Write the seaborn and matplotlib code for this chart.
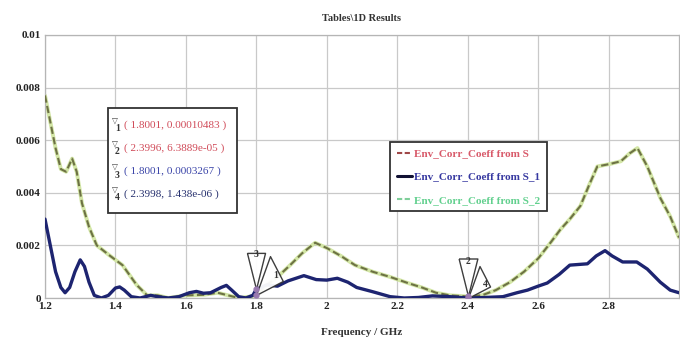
import matplotlib
matplotlib.use("Agg")
import matplotlib.pyplot as plt
import seaborn as sns
import numpy as np
from matplotlib.lines import Line2D
from matplotlib.patches import Rectangle

# ---------------- data ----------------
freq_s = [1.200, 1.215, 1.230, 1.245, 1.260, 1.277, 1.290, 1.305, 1.325, 1.347,
          1.385, 1.420, 1.460, 1.490, 1.520, 1.550, 1.600, 1.650, 1.690, 1.720,
          1.750, 1.780, 1.800, 1.830, 1.860, 1.896, 1.930, 1.967, 2.000, 2.040,
          2.080, 2.130, 2.180, 2.230, 2.270, 2.310, 2.350, 2.400, 2.440, 2.480,
          2.520, 2.560, 2.600, 2.635, 2.663, 2.690, 2.720, 2.745, 2.768, 2.805,
          2.835, 2.860, 2.882, 2.910, 2.947, 2.975, 3.000]
coeff_s = [0.0077, 0.0067, 0.0057, 0.0049, 0.0048, 0.0053, 0.0048, 0.0036, 0.0027, 0.0020,
           0.0016, 0.00125, 0.0005, 0.0001, 0.0001, 0.0, 0.0001, 0.00012, 0.0002, 0.0001,
           0.0, 0.00005, 0.0001, 0.0005, 0.0008, 0.00125, 0.0017, 0.0021, 0.0019, 0.0016,
           0.00125, 0.0010, 0.0008, 0.00057, 0.0004, 0.0002, 0.0001, 0.00006, 0.0001, 0.0003,
           0.0006, 0.0010, 0.0015, 0.0021, 0.0026, 0.0030, 0.0035, 0.0043, 0.0050, 0.0051,
           0.0052, 0.0055, 0.0057, 0.0050, 0.0038, 0.0031, 0.0023]
# S_2 overlaps S almost exactly in the reference
freq_s2 = list(freq_s)
coeff_s2 = list(coeff_s)

freq_s1 = [1.200, 1.215, 1.230, 1.245, 1.257, 1.270, 1.285, 1.300, 1.312, 1.325,
           1.340, 1.360, 1.380, 1.400, 1.412, 1.425, 1.445, 1.470, 1.500, 1.520,
           1.550, 1.580, 1.610, 1.630, 1.650, 1.670, 1.700, 1.715, 1.730, 1.750,
           1.770, 1.790, 1.800, 1.830, 1.860, 1.890, 1.935, 1.970, 2.000, 2.030,
           2.060, 2.085, 2.130, 2.180, 2.220, 2.260, 2.300, 2.350, 2.400, 2.450,
           2.500, 2.540, 2.570, 2.600, 2.626, 2.660, 2.690, 2.740, 2.765, 2.790,
           2.810, 2.840, 2.880, 2.910, 2.947, 2.975, 3.000]
coeff_s1 = [0.0030, 0.0020, 0.0010, 0.0004, 0.0002, 0.0004, 0.0010, 0.00145, 0.0012, 0.0006,
            0.0001, 0.0, 0.0001, 0.00038, 0.00042, 0.0003, 0.00005, 0.0, 0.0001, 0.00005,
            0.0, 0.00005, 0.0002, 0.00025, 0.00018, 0.0002, 0.0004, 0.00048, 0.0003, 0.00005,
            0.0, 0.0001, 0.00033, 0.0005, 0.00045, 0.00065, 0.00085, 0.0007, 0.00068, 0.00075,
            0.0006, 0.0004, 0.00024, 0.00005, 0.0, 0.00002, 0.00008, 0.00005, 0.0, 0.00002,
            0.00005, 0.0002, 0.0003, 0.00045, 0.00057, 0.0009, 0.00125, 0.0013, 0.0016, 0.0018,
            0.0016, 0.00137, 0.00137, 0.0011, 0.0006, 0.0003, 0.0002]

series_labels = ["Env_Corr_Coeff from S", "Env_Corr_Coeff from S_1", "Env_Corr_Coeff from S_2"]

marker_ids = ["1", "2", "3", "4"]
marker_freq = [1.8001, 2.3996, 1.8001, 2.3998]
marker_val = [0.00010483, 6.3889e-05, 0.0003267, 1.438e-06]
marker_text = ["( 1.8001, 0.00010483 )", "( 2.3996, 6.3889e-05 )",
               "( 1.8001, 0.0003267 )", "( 2.3998, 1.438e-06 )"]

xticks = [1.2, 1.4, 1.6, 1.8, 2.0, 2.2, 2.4, 2.6, 2.8]
xtick_labels = ["1.2", "1.4", "1.6", "1.8", "2", "2.2", "2.4", "2.6", "2.8"]
yticks = [0, 0.002, 0.004, 0.006, 0.008, 0.01]
ytick_labels = ["0", "0.002", "0.004", "0.006", "0.008", "0.01"]

# ---------------- style ----------------
sns.set_theme(style="whitegrid")
plt.rcParams["font.family"] = ["Liberation Serif", "DejaVu Serif"]

W, H = 680, 349
fig = plt.figure(figsize=(W / 100, H / 100), dpi=100)
fig.patch.set_facecolor("white")
ax = fig.add_axes([45 / W, 1 - 298 / H, (679 - 45) / W, (298 - 35) / H])
ax.set_facecolor("white")

c_s2_halo = "#d3e6a6"
c_s = "#6d7244"
c_s1 = "#1d2470"

sns.lineplot(x=freq_s2, y=coeff_s2, ax=ax, color=c_s2_halo, lw=2.8, sort=False, zorder=2)
sns.lineplot(x=freq_s, y=coeff_s, ax=ax, color=c_s, lw=1.5, sort=False, zorder=3,
             linestyle=(0, (3.5, 1.6)))
sns.lineplot(x=freq_s1, y=coeff_s1, ax=ax, color=c_s1, lw=2.4, sort=False, zorder=4)

ax.set_xlim(1.2, 3.0)
ax.set_ylim(0, 0.01)
ax.set_xticks(xticks)
ax.set_xticklabels(xtick_labels)
ax.set_yticks(yticks)
ax.set_yticklabels(ytick_labels)
ax.tick_params(length=0, labelsize=8, pad=3)
for lab in ax.get_xticklabels() + ax.get_yticklabels():
    lab.set_fontweight("bold")
    lab.set_color("#222222")
ax.grid(True, color="#c9c9c9", lw=0.9)
for sp in ax.spines.values():
    sp.set_color("#b5b5b5")
    sp.set_linewidth(0.9)

ax.set_title("Tables\\1D Results", fontsize=7.5, fontweight="bold", color="#333333", pad=10)
ax.set_xlabel("Frequency / GHz", fontsize=8, fontweight="bold", color="#333333", labelpad=12)
ax.set_ylabel("")

# ---------------- curve markers ----------------
tall_tri = [(-0.25, 1.0), (0.25, 1.0), (0.0, 0.0), (-0.25, 1.0)]
slant_tri = [(0.0, 0.0), (0.36, 1.0), (0.69, 0.36), (0.0, 0.0)]
marker_shapes = [slant_tri, tall_tri, tall_tri, slant_tri]
marker_sizes = [56, 54, 52, 46]
label_off = [(14, 14), (0, 25), (0, 25), (13, 10)]
for mid, mf, mv, shp, ms, off in zip(marker_ids, marker_freq, marker_val, marker_shapes,
                                     marker_sizes, label_off):
    ax.plot([mf], [mv], marker=shp, markersize=ms, markerfacecolor="white",
            markeredgecolor="#333333", markeredgewidth=1.0, linestyle="none", zorder=6,
            alpha=0.95)
    ax.plot([mf], [mv], marker="o", markersize=3.5, color="#9a7ab0", linestyle="none", zorder=7)
    ax.annotate(mid, (mf, mv), xytext=off, textcoords="offset points", fontsize=7,
                ha="center", va="center", color="#333333", zorder=8, fontweight="bold")

# ---------------- marker readout box ----------------
bx0, by0, bx1, by1 = 108, 108, 237, 213
fig.patches.append(Rectangle((bx0 / W, 1 - by1 / H), (bx1 - bx0) / W, (by1 - by0) / H,
                             transform=fig.transFigure, facecolor="white",
                             edgecolor="#333333", lw=1.3, zorder=10))
row_y = [125, 148, 171, 194]
row_col = ["#d04a58", "#d04a58", "#3a44a8", "#26306e"]
for mid, txt, ry, col in zip(marker_ids, marker_text, row_y, row_col):
    fig.text(112 / W, 1 - (ry - 5) / H, "\u25bd", fontsize=5.5, color="#444444",
             ha="left", va="center", zorder=11, family=["DejaVu Sans"])
    fig.text(115 / W, 1 - (ry + 4) / H, mid, fontsize=7, color="#333333",
             ha="left", va="center", zorder=11, fontweight="bold")
    fig.text(124 / W, 1 - ry / H, txt, fontsize=8.1, color=col,
             ha="left", va="center", zorder=11)

# ---------------- legend ----------------
handles = [Line2D([], [], color="#a04848", lw=1.5, linestyle=(0, (2.5, 1.2))),
           Line2D([], [], color="#111133", lw=2.2),
           Line2D([], [], color="#7fcf9a", lw=1.5, linestyle=(0, (2.5, 1.2)))]
leg = ax.legend(handles, series_labels, loc="upper left",
                bbox_to_anchor=(390 / W, 1 - 142 / H), bbox_transform=fig.transFigure,
                fontsize=8, handlelength=1.4, handletextpad=0.2, labelspacing=1.2,
                borderpad=0.6, borderaxespad=0, frameon=True, fancybox=False,
                edgecolor="#333333", framealpha=1,
                labelcolor=["#d85a6a", "#3638a0", "#62d08e"])
leg.get_frame().set_linewidth(1.3)
for t in leg.get_texts():
    t.set_fontweight("bold")
leg.set_zorder(10)

fig.savefig("out.png", dpi=100, facecolor="white")
